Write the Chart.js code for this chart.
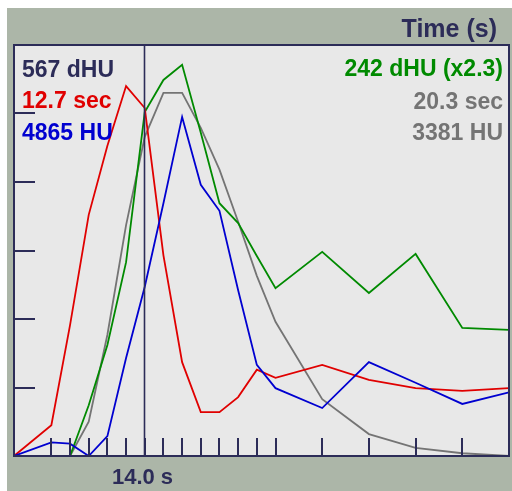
<!DOCTYPE html>
<html><head><meta charset="utf-8">
<script src="https://cdn.jsdelivr.net/npm/chart.js@4/dist/chart.umd.min.js"></script>
<style>
html,body{margin:0;padding:0;background:#fff;width:512px;height:491px;overflow:hidden}
#wrap{position:absolute;left:7px;top:8px;width:505px;height:483px;background:rgb(172,182,168)}
canvas{display:block}
</style></head><body>
<div id="wrap"><canvas id="c" width="505" height="483"></canvas></div>
<script>
// sample times (s)
const times = [7, 9, 10, 11, 12, 13, 14, 15, 16, 17, 18, 19, 20, 21, 23.5, 26, 28.5, 31, 33.5];
// curves (arbitrary units, 0..6 full height)
const redValues   = [0, 0.45, 1.91, 3.52, 4.53, 5.40, 5.08, 2.93, 1.37, 0.64, 0.64, 0.86, 1.26, 1.14, 1.33, 1.11, 0.99, 0.95, 0.99];
const blueValues  = [0, 0.20, 0.18, 0, 0.29, 1.43, 2.47, 3.69, 4.95, 3.96, 3.58, 2.42, 1.33, 0.99, 0.70, 1.37, 1.07, 0.76, 0.93];
const greenValues = [null, null, 0, 0.74, 1.62, 2.83, 5.02, 5.49, 5.71, 4.72, 3.69, 3.40, 2.92, 2.45, 2.98, 2.38, 2.95, 1.87, 1.84];
const grayValues  = [null, null, 0, 0.50, 1.77, 3.37, 4.66, 5.30, 5.30, 4.79, 4.18, 3.42, 2.63, 1.96, 0.83, 0.32, 0.12, 0.04, 0];
const yTicks = [1, 2, 3, 4, 5];
const xTicks = times.slice(1, -1);
const cursorTime = 14;
const cursorLabel = '14.0 s';
const axisTitle = 'Time (s)';
const leftLabels = ['567 dHU', '12.7 sec', '4865 HU'];
const rightLabels = ['242 dHU (x2.3)', '20.3 sec', '3381 HU'];

const NAVY = '#2c2c58';
const RED = '#e00000';
const BLUE = '#0000d0';
const GREEN = '#008a00';
const GRAY = '#747474';
const FONT = 'bold 23px "Liberation Sans", Arial, sans-serif';

function pts(vals){ return times.map((t,i)=>({x:t, y:vals[i]})); }

const overlay = {
  id: 'overlay',
  beforeDraw(chart){
    const {ctx, chartArea:a} = chart;
    ctx.save();
    ctx.fillStyle = '#e8e8e8';
    ctx.fillRect(a.left, a.top, a.right - a.left, a.bottom - a.top);
    ctx.restore();
  },
  afterDatasetsDraw(chart){
    const {ctx, chartArea:a, scales:{x, y}} = chart;
    ctx.save();
    ctx.strokeStyle = NAVY;
    ctx.lineWidth = 2;
    ctx.beginPath();
    xTicks.forEach(t => { const px = Math.round(x.getPixelForValue(t)); ctx.moveTo(px, a.bottom); ctx.lineTo(px, a.bottom - 18); });
    yTicks.forEach(v => { const py = Math.round(y.getPixelForValue(v)); ctx.moveTo(a.left, py); ctx.lineTo(a.left + 21, py); });
    ctx.stroke();
    // cursor line
    const cx = Math.round(x.getPixelForValue(cursorTime)) - 0.5;
    ctx.lineWidth = 1.6;
    ctx.beginPath(); ctx.moveTo(cx, a.top); ctx.lineTo(cx, a.bottom); ctx.stroke();
    // frame
    ctx.lineWidth = 2;
    ctx.strokeRect(a.left, a.top, a.right - a.left, a.bottom - a.top);
    // texts
    ctx.font = FONT;
    ctx.textBaseline = 'alphabetic';
    ctx.textAlign = 'left';
    const lc = [NAVY, RED, BLUE];
    const base = [a.top + 32, a.top + 63, a.top + 95];
    leftLabels.forEach((s,i) => { ctx.fillStyle = lc[i]; ctx.fillText(s, a.left + 8, base[i]); });
    ctx.textAlign = 'right';
    const rc = [GREEN, GRAY, GRAY];
    const rbase = [a.top + 31, a.top + 64, a.top + 95];
    rightLabels.forEach((s,i) => { ctx.fillStyle = rc[i]; ctx.fillText(s, a.right - 6, rbase[i]); });
    ctx.font = 'bold 25px "Liberation Sans", Arial, sans-serif';
    ctx.fillStyle = NAVY;
    ctx.fillText(axisTitle, a.right - 12, a.top - 8);
    ctx.font = 'bold 22px "Liberation Sans", Arial, sans-serif';
    ctx.textAlign = 'center';
    ctx.fillText(cursorLabel, cx - 2, a.bottom + 28);
    ctx.restore();
  }
};

new Chart(document.getElementById('c'), {
  type: 'line',
  data: {
    datasets: [
      {data: pts(blueValues), borderColor: BLUE},
      {data: pts(redValues), borderColor: RED},
      {data: pts(greenValues), borderColor: GREEN},
      {data: pts(grayValues), borderColor: GRAY}
    ]
  },
  options: {
    responsive: false,
    animation: false,
    devicePixelRatio: 1,
    layout: {padding: {left: 7, top: 37, right: 3, bottom: 35}},
    elements: {
      line: {borderWidth: 1.8, tension: 0, fill: false},
      point: {radius: 0, hoverRadius: 0}
    },
    scales: {
      x: {type: 'linear', min: 7, max: 33.5, display: false},
      y: {min: 0, max: 6, display: false}
    },
    plugins: {legend: {display: false}, tooltip: {enabled: false}}
  },
  plugins: [overlay]
});
</script>
</body></html>
